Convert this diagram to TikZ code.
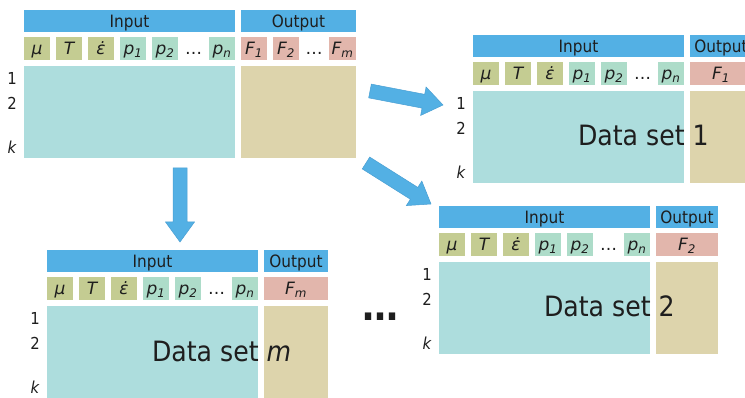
\documentclass[tikz,border=0pt]{standalone}
\usepackage{fontspec}
\setmainfont{DejaVu Sans}[FakeStretch=0.9]
\newfontfamily\cellfont{DejaVu Sans}
\usetikzlibrary{calc}

\definecolor{hdrblue}{HTML}{53B0E4}
\definecolor{arrowedge}{HTML}{4A9FD3}
\definecolor{olivefill}{HTML}{C4CC92}
\definecolor{tealfill}{HTML}{ADDCC9}
\definecolor{pinkfill}{HTML}{E2B6AC}
\definecolor{datainfill}{HTML}{ADDDDD}
\definecolor{dataoutfill}{HTML}{DDD4AC}
\definecolor{ink}{HTML}{1E1E1E}

\tikzset{
  box/.style={rectangle, inner sep=0pt, outer sep=0pt, text=ink},
  hdr/.style={box, fill=hdrblue, minimum height=22pt, text height=12.2pt, text depth=0pt,
    font=\fontsize{17}{17}\selectfont},
  cellbox/.style={box, minimum width=26pt, minimum height=23pt, text height=12.2pt, text depth=0pt,
    font=\cellfont\fontsize{17}{17}\selectfont\itshape},
  olivecell/.style={cellbox, fill=olivefill},
  tealcell/.style={cellbox, fill=tealfill},
  pinkcell/.style={cellbox, fill=pinkfill},
  gapdots/.style={box, minimum height=23pt, text height=11.7pt, text depth=0pt,
    font=\cellfont\fontsize{17}{17}\selectfont},
  datain/.style={box, fill=datainfill, minimum height=92pt},
  dataout/.style={box, fill=dataoutfill, minimum height=92pt},
  rowlab/.style={box, font=\fontsize{16.5}{16.5}\selectfont},
  biglabel/.style={box, anchor=base west, font=\fontsize{28}{28}\selectfont},
  moredots/.style={box, anchor=base, font=\fontsize{40}{40}\selectfont\bfseries},
  arrowbody/.style={fill=hdrblue, draw=arrowedge, line width=0.5pt, line join=miter},
}

% letter with a subscript, both in the current (italic) shape
\newcommand\psub[2]{#1\textsubscript{#2}}

% input half of a table: header, parameter cells, data block, row numbers
\newcommand\inputside[3]{%
  \begin{scope}[shift={(#2,#3)}]
    \node[hdr, minimum width=211pt] (#1-in) at (105.5,11) {Input};
    \node[olivecell] (#1-mu) at (13,38.5) {μ};
    \node[olivecell] (#1-T) at (45,38.5) {T};
    \node[olivecell] (#1-eps) at (77,38.5) {ε̇};
    \node[tealcell] (#1-p1) at (109,38.5) {\psub{p}{1}};
    \node[tealcell] (#1-p2) at (141,38.5) {\psub{p}{2}};
    \node[gapdots] (#1-pdots) at (169.5,38.5) {…};
    \node[tealcell] (#1-pn) at (198,38.5) {\psub{p}{n}};
    \node[datain, minimum width=211pt] (#1-din) at (105.5,102) {};
    \node[rowlab] (#1-r1) at (-12,68) {1};
    \node[rowlab] (#1-r2) at (-12,93) {2};
    \node[rowlab, font=\fontsize{16.5}{16.5}\selectfont\itshape] (#1-rk) at (-12,137) {k};
  \end{scope}}

% single-column output half of a table
\newcommand\outputside[5]{%
  \begin{scope}[shift={(#2,#3)}]
    \node[hdr, minimum width=#4pt] (#1-out) at ({217+#4/2},11) {Output};
    \node[pinkcell, minimum width=#4pt] (#1-F) at ({217+#4/2},38.5) {#5};
    \node[dataout, minimum width=#4pt] (#1-dout) at ({217+#4/2},102) {};
  \end{scope}}

% broad block arrow between two named points
\newcommand\fatarrow[2]{%
  \coordinate (fa-neck) at ($(#2)!20pt!(#1)$);
  \path[arrowbody] ($(#1)!7pt!90:(#2)$) -- ($(fa-neck)!7pt!90:(#2)$)
    -- ($(fa-neck)!14.5pt!90:(#2)$) -- (#2) -- ($(fa-neck)!14.5pt!-90:(#2)$)
    -- ($(fa-neck)!7pt!-90:(#2)$) -- ($(#1)!7pt!-90:(#2)$) -- cycle;}

\begin{document}
\begin{tikzpicture}[x=1pt, y=-1pt]
  \useasboundingbox (0,0) rectangle (745,398);
  \clip (0,0) rectangle (745,398);

  % full table with all outputs
  \inputside{src}{24}{10}
  \begin{scope}[shift={(24,10)}]
    \node[hdr, minimum width=115pt] (src-out) at (274.5,11) {Output};
    \node[pinkcell] (src-F1) at (230,38.5) {\psub{F}{1}};
    \node[pinkcell] (src-F2) at (262,38.5) {\psub{F}{2}};
    \node[gapdots] (src-Fdots) at (290,38.5) {…};
    \node[pinkcell, minimum width=27pt] (src-Fm) at (318.5,38.5) {\psub{F}{m}};
    \node[dataout, minimum width=115pt] (src-dout) at (274.5,102) {};
  \end{scope}

  % data set 1 (its output column runs past the right edge)
  \inputside{ds1}{473}{35}
  \outputside{ds1}{473}{35}{62}{\psub{F}{1}}
  \node[biglabel] (ds1-name) at (578,146) {Data set 1};

  % data set 2
  \inputside{ds2}{439}{206}
  \outputside{ds2}{439}{206}{62}{\psub{F}{2}}
  \node[biglabel] (ds2-name) at (544,317) {Data set 2};

  % data set m
  \inputside{dsm}{47}{250}
  \outputside{dsm}{47}{250}{64}{\psub{F}{m}}
  \node[biglabel] (dsm-name) at (152,361) {Data set \textit{m}};

  % further data sets
  \node[moredots] (more) at (380.5,321) {…};

  % splitting arrows
  \coordinate (dn-s) at (180,168);
  \coordinate (dn-e) at (180,242);
  \coordinate (r1-s) at (370,91);
  \coordinate (r1-e) at (443,105);
  \coordinate (r2-s) at (366,163);
  \coordinate (r2-e) at (431,204);
  \fatarrow{dn-s}{dn-e}
  \fatarrow{r1-s}{r1-e}
  \fatarrow{r2-s}{r2-e}
\end{tikzpicture}
\end{document}
